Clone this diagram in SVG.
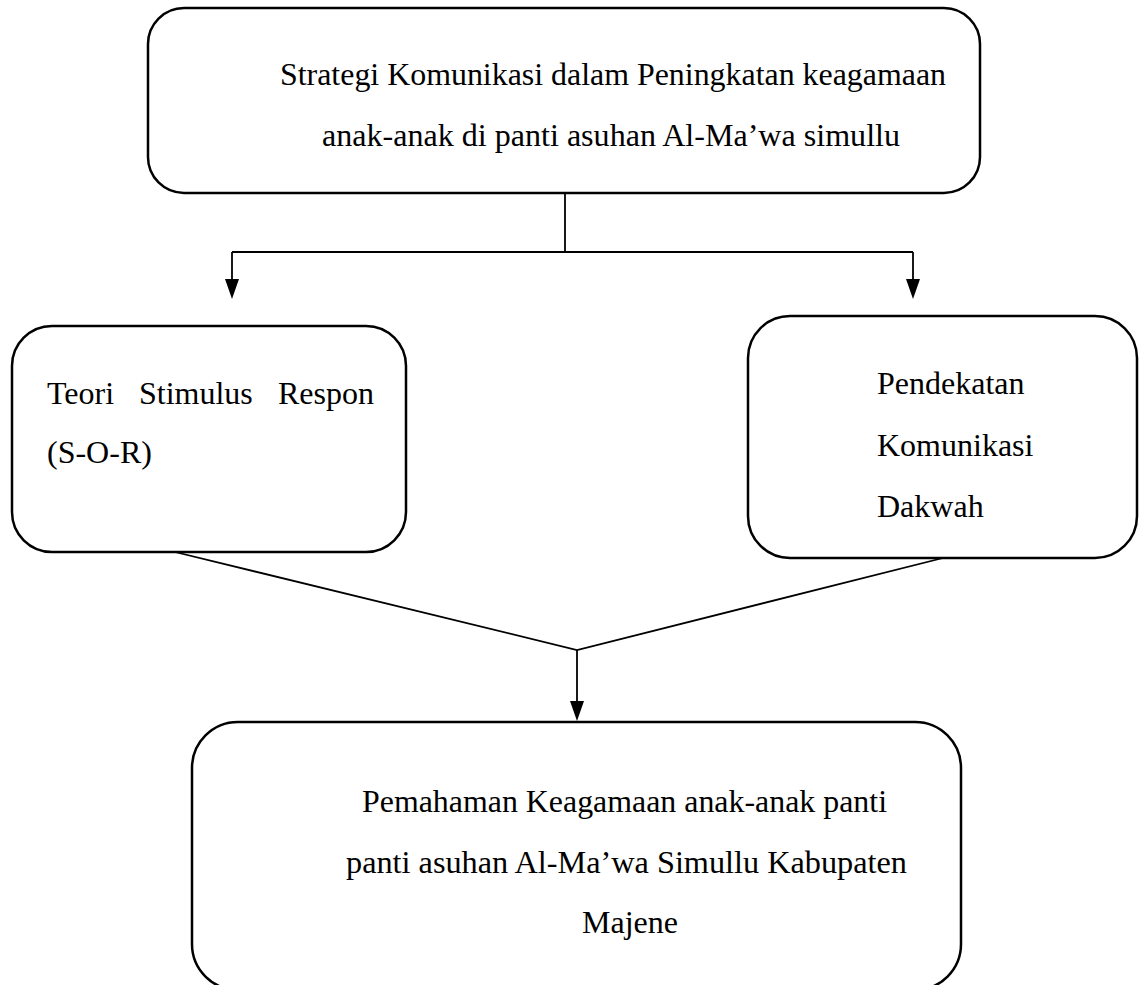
<svg xmlns="http://www.w3.org/2000/svg" width="1139" height="985" viewBox="0 0 1139 985">
<style>
.box{fill:#fff;stroke:#000;stroke-width:2.5}
.t{font-family:"Liberation Serif","Times New Roman",serif;font-size:32px;fill:#000}
.c{fill:none;stroke:#000;stroke-width:1.8}
.ah{fill:#000}
</style>
<rect width="1139" height="985" fill="#fff"/>
<g id="connectors">
<path class="c" d="M565,193 V252"/>
<path class="c" d="M232,252 H913"/>
<path class="c" d="M232,252 V282"/>
<path class="ah" d="M225,279 L239,279 L232,299 Z"/>
<path class="c" d="M913,252 V282"/>
<path class="ah" d="M906,279 L920,279 L913,299 Z"/>
<path class="c" d="M175,552 L577,650 L943,558"/>
<path class="c" d="M577,650 V705"/>
<path class="ah" d="M570,701 L584,701 L577,721 Z"/>
</g>
<g id="node-top">
<rect class="box" x="148" y="8" width="832" height="185" rx="36" ry="36"/>
<text class="t" x="280" y="85" textLength="666" lengthAdjust="spacingAndGlyphs">Strategi Komunikasi dalam Peningkatan keagamaan</text>
<text class="t" x="322" y="146" textLength="578" lengthAdjust="spacingAndGlyphs">anak-anak di panti asuhan Al-Ma’wa simullu</text>
</g>
<g id="node-sor">
<rect class="box" x="12" y="326" width="394" height="226" rx="40" ry="40"/>
<text class="t" x="47" y="404">Teori</text>
<text class="t" x="139" y="404">Stimulus</text>
<text class="t" x="278" y="404">Respon</text>
<text class="t" x="47" y="463">(S-O-R)</text>
</g>
<g id="node-dakwah">
<rect class="box" x="748" y="316" width="389" height="242" rx="42" ry="42"/>
<text class="t" x="877" y="394">Pendekatan</text>
<text class="t" x="877" y="456">Komunikasi</text>
<text class="t" x="877" y="517">Dakwah</text>
</g>
<g id="node-bottom">
<rect class="box" x="192" y="722" width="769" height="268" rx="46" ry="46"/>
<text class="t" x="362" y="812" textLength="525" lengthAdjust="spacingAndGlyphs">Pemahaman Keagamaan anak-anak panti</text>
<text class="t" x="346" y="873" textLength="561" lengthAdjust="spacingAndGlyphs">panti asuhan Al-Ma’wa Simullu Kabupaten</text>
<text class="t" x="582" y="933">Majene</text>
</g>
</svg>
